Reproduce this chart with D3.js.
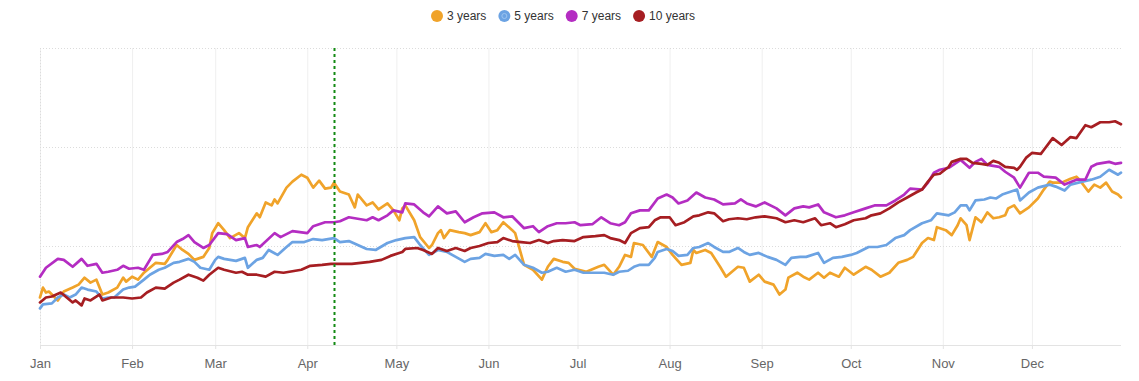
<!DOCTYPE html>
<html>
<head>
<meta charset="utf-8">
<script src="https://cdn.jsdelivr.net/npm/d3@7"></script>
<style>
  body { margin: 0; background: #fff; }
  svg { display: block; font-family: "Liberation Sans", Arial, sans-serif; }
  .grid line { stroke: #dcdcdc; stroke-dasharray: 1,2; }
  .grid path { display: none; }
  .vgrid line { stroke: #efefef; }
  .vgrid path { display: none; }
  .xaxis path { stroke: #e3e3e3; }
  .xaxis line { stroke: #e3e3e3; }
  .xaxis text { fill: #666; font-size: 13px; }
  .legend text { fill: #333; font-size: 12px; }
  .series { fill: none; stroke-width: 2.7; stroke-linejoin: round; stroke-linecap: round; }
</style>
</head>
<body>
<script>
// day of year (0 = Jan 1), value
var year = 2019;
var markerDay = 99;   // green dashed marker (~Apr 10)

var labels = ["3 years", "5 years", "7 years", "10 years"];
var colors = ["#f0a32a", "#6ca3e3", "#b42dc2", "#a61e22"];

var y3 = [[0,0.48],[1,0.58],[2,0.53],[3,0.54],[5,0.48],[6,0.45],[8,0.54],[11,0.58],[13,0.61],[15,0.68],[17,0.63],[19,0.66],[21,0.51],[23,0.53],[26,0.58],[28,0.68],[29,0.64],[31,0.69],[33,0.66],[35,0.73],[37,0.78],[39,0.83],[42,0.82],[43,0.86],[46,1.01],[48,0.96],[50,0.92],[52,0.86],[55,0.89],[57,0.98],[58,1.13],[60,1.23],[62,1.16],[64,1.08],[67,1.13],[69,1.08],[70,1.19],[73,1.33],[74,1.29],[76,1.44],[78,1.41],[79,1.47],[80,1.43],[83,1.59],[85,1.65],[88,1.72],[90,1.69],[92,1.59],[94,1.66],[96,1.58],[98,1.59],[99,1.64],[101,1.55],[104,1.52],[106,1.39],[107,1.52],[110,1.41],[112,1.44],[114,1.37],[117,1.43],[119,1.36],[121,1.26],[122,1.38],[123,1.41],[126,1.26],[128,1.09],[131,0.98],[132,1.01],[134,1.13],[135,1.16],[136,1.08],[138,1.16],[141,1.14],[143,1.13],[145,1.11],[148,1.14],[150,1.23],[152,1.14],[154,1.16],[156,1.24],[159,1.16],[160,1.13],[163,0.81],[166,0.76],[169,0.66],[171,0.79],[173,0.87],[176,0.84],[178,0.83],[180,0.77],[184,0.74],[188,0.79],[190,0.81],[193,0.71],[195,0.79],[197,0.91],[199,0.89],[200,1.03],[203,1.01],[206,0.89],[208,1.04],[211,0.99],[213,0.91],[216,0.81],[219,0.83],[220,0.96],[221,0.93],[224,0.96],[226,0.93],[229,0.79],[231,0.69],[233,0.74],[235,0.79],[237,0.78],[239,0.64],[242,0.71],[244,0.64],[247,0.61],[249,0.51],[251,0.56],[252,0.68],[255,0.73],[257,0.69],[259,0.66],[262,0.73],[264,0.68],[266,0.73],[269,0.69],[271,0.78],[274,0.71],[278,0.79],[280,0.76],[283,0.69],[286,0.73],[289,0.83],[292,0.86],[294,0.89],[297,1.03],[299,1.08],[301,1.06],[302,1.19],[305,1.16],[307,1.11],[309,1.21],[310,1.28],[312,1.21],[313,1.06],[315,1.29],[317,1.24],[319,1.34],[321,1.28],[323,1.29],[325,1.31],[326,1.38],[328,1.41],[330,1.33],[333,1.39],[336,1.48],[338,1.57],[340,1.65],[341,1.64],[344,1.64],[347,1.68],[349,1.70],[350,1.67],[353,1.55],[355,1.62],[357,1.59],[359,1.64],[361,1.55],[363,1.52],[364,1.49]];

var y5 = [[0,0.37],[1,0.41],[4,0.42],[6,0.48],[8,0.51],[10,0.48],[12,0.51],[14,0.58],[16,0.56],[19,0.54],[21,0.47],[23,0.48],[25,0.48],[28,0.56],[30,0.58],[32,0.59],[35,0.66],[37,0.71],[40,0.76],[42,0.78],[45,0.83],[47,0.84],[50,0.87],[52,0.84],[54,0.78],[57,0.76],[59,0.86],[60,0.89],[62,0.87],[66,0.85],[69,0.88],[70,0.78],[73,0.86],[75,0.88],[77,0.96],[80,0.91],[83,0.99],[85,1.04],[89,1.04],[92,1.07],[95,1.06],[99,1.08],[101,1.04],[104,1.05],[107,1.01],[110,0.97],[113,0.96],[117,1.03],[120,1.06],[123,1.08],[126,1.09],[128,1.01],[131,0.91],[134,0.96],[137,0.94],[140,0.89],[143,0.84],[145,0.87],[148,0.88],[150,0.92],[153,0.90],[156,0.91],[158,0.87],[160,0.91],[163,0.81],[166,0.78],[169,0.73],[171,0.74],[174,0.78],[177,0.74],[180,0.76],[183,0.73],[187,0.73],[190,0.73],[193,0.71],[195,0.74],[198,0.75],[200,0.79],[202,0.81],[205,0.81],[207,0.88],[208,0.94],[211,0.97],[213,0.95],[215,0.90],[218,0.91],[220,0.98],[222,0.99],[225,1.03],[227,0.99],[230,0.94],[232,0.94],[235,0.98],[237,0.94],[239,0.91],[242,0.93],[245,0.89],[248,0.86],[251,0.81],[253,0.88],[256,0.89],[258,0.89],[262,0.93],[264,0.83],[267,0.88],[270,0.89],[273,0.91],[275,0.93],[279,0.99],[282,0.99],[285,1.01],[288,1.08],[291,1.11],[293,1.16],[297,1.23],[300,1.26],[302,1.33],[306,1.31],[308,1.34],[310,1.41],[312,1.41],[313,1.36],[315,1.46],[318,1.47],[320,1.49],[322,1.48],[324,1.52],[327,1.55],[329,1.57],[330,1.46],[333,1.54],[336,1.59],[340,1.62],[342,1.60],[345,1.56],[347,1.62],[351,1.65],[354,1.67],[357,1.70],[360,1.77],[363,1.72],[364,1.74]];

var y7 = [[0,0.69],[2,0.78],[6,0.87],[8,0.86],[11,0.79],[14,0.87],[16,0.80],[19,0.82],[21,0.73],[23,0.74],[26,0.76],[28,0.80],[30,0.77],[33,0.78],[35,0.76],[38,0.91],[41,0.92],[43,0.94],[46,1.04],[48,1.07],[50,1.11],[52,1.04],[55,0.98],[57,1.01],[60,1.13],[63,1.12],[66,1.06],[69,1.08],[70,0.99],[73,1.01],[74,0.99],[79,1.13],[81,1.09],[85,1.15],[90,1.13],[92,1.20],[96,1.24],[99,1.24],[101,1.25],[104,1.29],[106,1.28],[110,1.26],[112,1.29],[114,1.26],[117,1.31],[119,1.36],[122,1.34],[123,1.43],[126,1.42],[129,1.34],[131,1.30],[134,1.40],[137,1.33],[140,1.35],[143,1.24],[146,1.29],[149,1.33],[153,1.34],[156,1.29],[159,1.30],[163,1.18],[166,1.20],[168,1.14],[171,1.20],[174,1.23],[177,1.23],[180,1.24],[182,1.21],[186,1.22],[189,1.29],[192,1.23],[195,1.21],[197,1.24],[199,1.33],[202,1.36],[205,1.36],[208,1.48],[211,1.52],[213,1.49],[215,1.43],[218,1.46],[221,1.54],[224,1.49],[227,1.47],[230,1.42],[234,1.43],[236,1.47],[238,1.43],[241,1.40],[244,1.44],[248,1.38],[251,1.31],[254,1.38],[257,1.40],[259,1.39],[262,1.42],[264,1.34],[268,1.29],[271,1.31],[274,1.34],[278,1.38],[281,1.41],[285,1.41],[288,1.46],[291,1.52],[293,1.58],[297,1.57],[299,1.64],[301,1.74],[303,1.77],[306,1.79],[310,1.87],[313,1.79],[315,1.85],[317,1.88],[319,1.82],[323,1.80],[325,1.75],[328,1.69],[330,1.59],[333,1.74],[336,1.74],[338,1.70],[342,1.69],[345,1.62],[349,1.67],[352,1.67],[354,1.80],[356,1.83],[360,1.85],[362,1.83],[364,1.84]];

var y10 = [[0,0.43],[2,0.48],[4,0.49],[7,0.53],[9,0.48],[11,0.43],[12,0.45],[14,0.40],[15,0.47],[17,0.45],[20,0.51],[21,0.45],[24,0.48],[28,0.48],[31,0.47],[34,0.48],[36,0.53],[39,0.58],[42,0.57],[45,0.63],[47,0.66],[50,0.71],[53,0.68],[55,0.65],[57,0.71],[60,0.78],[62,0.76],[66,0.73],[68,0.74],[70,0.71],[73,0.71],[76,0.69],[79,0.74],[82,0.73],[84,0.74],[88,0.76],[91,0.80],[95,0.81],[98,0.82],[101,0.82],[105,0.82],[108,0.83],[111,0.84],[115,0.86],[118,0.90],[122,0.94],[123,0.97],[127,0.98],[129,0.96],[132,0.92],[134,0.98],[137,0.95],[140,0.98],[143,0.95],[145,0.98],[148,1.00],[151,1.03],[154,1.04],[156,1.08],[159,1.05],[162,1.04],[165,1.03],[168,1.06],[171,1.03],[173,1.05],[176,1.06],[180,1.05],[183,1.09],[187,1.10],[190,1.11],[192,1.08],[195,1.06],[197,1.03],[199,1.13],[202,1.18],[205,1.19],[207,1.26],[209,1.29],[212,1.29],[214,1.21],[217,1.24],[220,1.30],[222,1.31],[225,1.34],[227,1.33],[230,1.25],[232,1.27],[235,1.28],[238,1.27],[241,1.29],[244,1.30],[248,1.28],[251,1.24],[254,1.26],[257,1.24],[261,1.28],[263,1.21],[266,1.23],[268,1.19],[271,1.22],[274,1.26],[278,1.28],[280,1.31],[283,1.33],[286,1.38],[289,1.44],[292,1.49],[295,1.54],[297,1.57],[299,1.65],[301,1.72],[303,1.73],[306,1.80],[307,1.85],[310,1.88],[312,1.88],[314,1.84],[317,1.83],[319,1.82],[321,1.86],[323,1.84],[325,1.80],[328,1.79],[329,1.77],[330,1.80],[332,1.89],[334,1.94],[337,1.93],[338,1.97],[341,2.09],[344,2.02],[347,2.10],[349,2.09],[352,2.22],[354,2.20],[357,2.25],[360,2.25],[362,2.26],[364,2.23]];

var series = [y3, y5, y7, y10];

(function(){

    var width = 1139, height = 381;
    var left = 40, right = 1121, top = 48, bottom = 345;

    var svg = d3.select("body").append("svg")
        .attr("width", width)
        .attr("height", height);

    var start = new Date(year, 0, 1);
    function dayDate(d){ return d3.timeDay.offset(start, d); }

    var x = d3.scaleTime()
        .domain([start, new Date(year, 11, 31)])
        .range([left, right]);

    var y = d3.scaleLinear()
        .domain([0, 3])
        .range([bottom, top]);

    //vertical month gridlines
    svg.append("g")
        .attr("class", "vgrid")
        .attr("transform", "translate(0," + bottom + ")")
        .call(d3.axisBottom(x).ticks(d3.timeMonth.every(1)).tickSize(-(bottom - top)).tickFormat(""));

    //dotted horizontal gridlines
    svg.append("g")
        .attr("class", "grid")
        .attr("transform", "translate(" + left + ",0)")
        .call(d3.axisLeft(y).tickValues([1, 2, 3]).tickSize(-(right - left)).tickFormat(""));

    //dotted left edge
    svg.append("line")
        .attr("x1", left + 0.5).attr("x2", left + 0.5)
        .attr("y1", top).attr("y2", bottom)
        .attr("stroke", "#dcdcdc")
        .attr("stroke-dasharray", "1,2");

    //x axis
    var xAxis = svg.append("g")
        .attr("class", "xaxis")
        .attr("transform", "translate(0," + bottom + ")")
        .call(d3.axisBottom(x)
            .ticks(d3.timeMonth.every(1))
            .tickSize(4)
            .tickPadding(10)
            .tickFormat(d3.timeFormat("%b")));
    xAxis.select(".domain").attr("d", "M" + left + ",0.5H" + right);

    //series lines
    var line = d3.line()
        .x(function(d){ return x(dayDate(d[0])); })
        .y(function(d){ return y(d[1]); });

    svg.selectAll(".series")
        .data(series)
        .enter()
        .append("path")
        .attr("class", "series")
        .attr("stroke", function(d, i){ return colors[i]; })
        .attr("d", line);

    //green marker line
    var mx = Math.round(x(dayDate(markerDay))) + 0.5;
    svg.append("line")
        .attr("x1", mx).attr("x2", mx)
        .attr("y1", top).attr("y2", bottom)
        .attr("stroke", "#138a13")
        .attr("stroke-width", 2)
        .attr("stroke-dasharray", "3,3");

    //legend
    var legend = svg.append("g").attr("class", "legend");
    var lx = 431;
    labels.forEach(function(lab, i){
        var g = legend.append("g").attr("transform", "translate(" + lx + ",16)");
        g.append("circle").attr("cx", 6).attr("cy", 0).attr("r", 6).attr("fill", colors[i]);
        if (i === 1) {
            g.append("circle").attr("cx", 6).attr("cy", 0).attr("r", 2.5)
                .attr("fill", "none").attr("stroke", "#9cc4f0").attr("stroke-width", 1);
        }
        var t = g.append("text").attr("x", 16).attr("y", 4).text(lab);
        lx += 16 + t.node().getComputedTextLength() + 12;
    });

})();
</script>
</body>
</html>
